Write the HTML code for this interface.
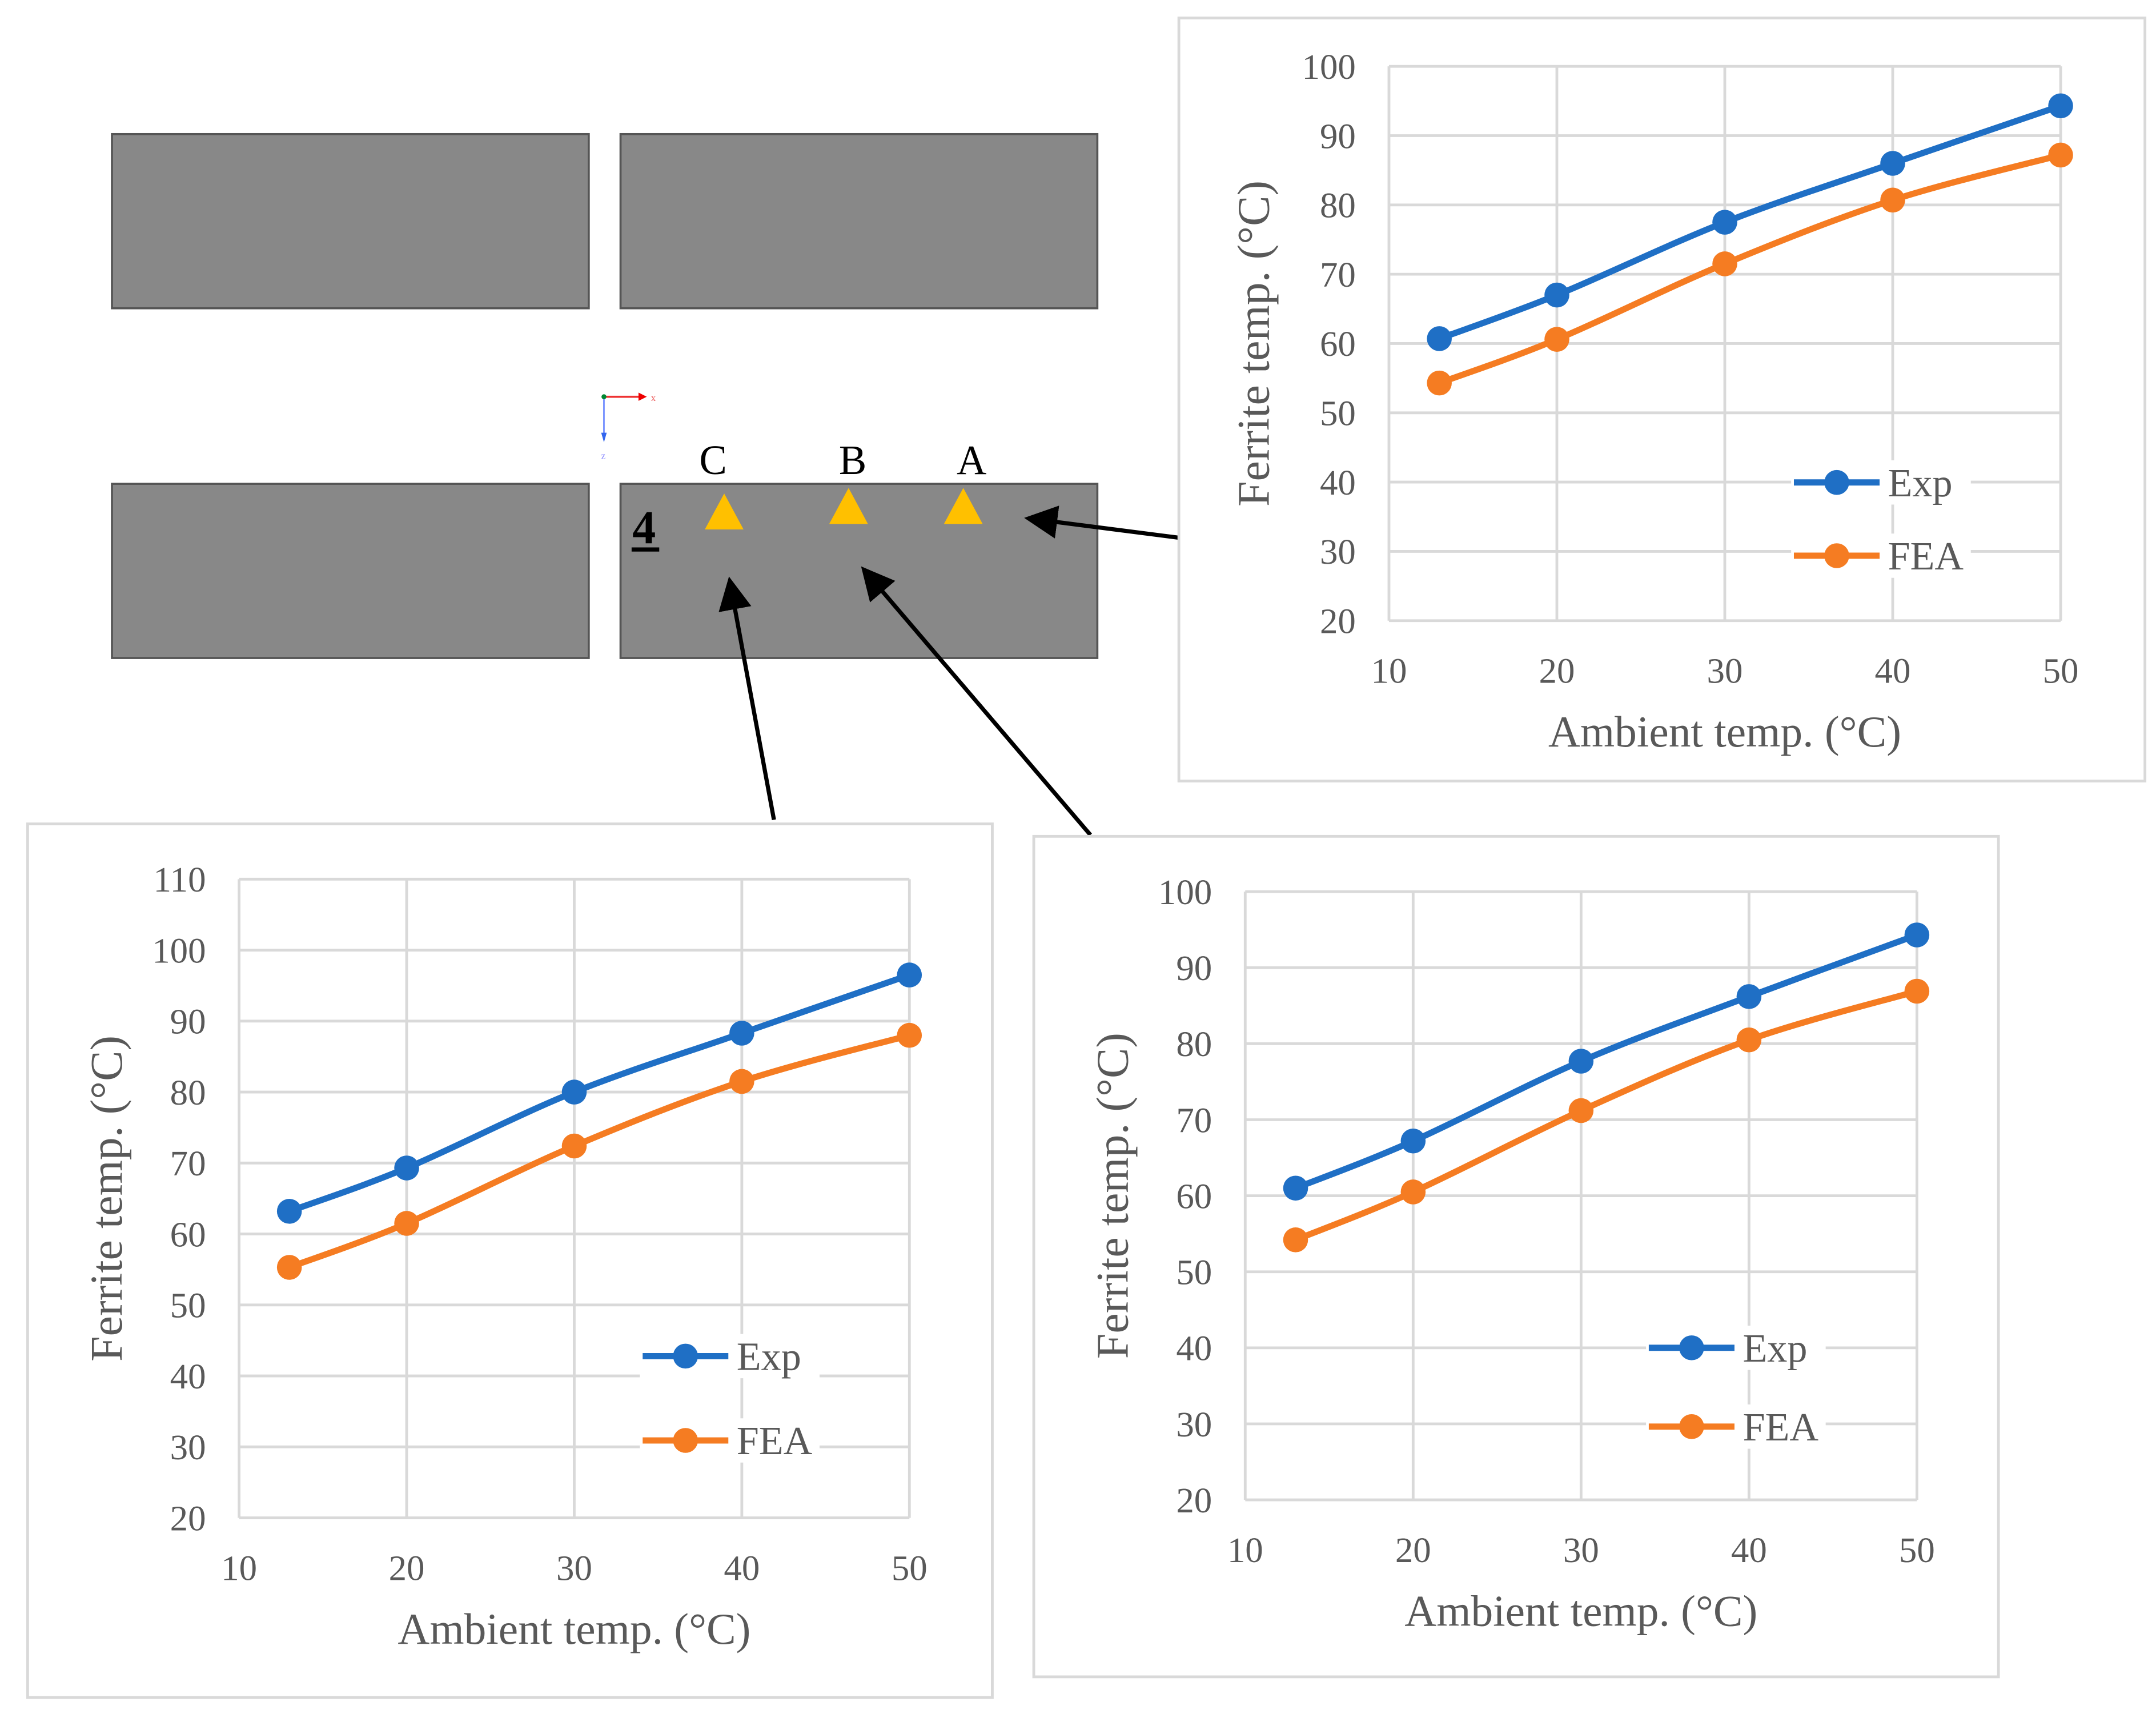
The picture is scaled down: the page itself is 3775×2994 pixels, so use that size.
<!DOCTYPE html>
<html><head><meta charset="utf-8">
<style>
html,body{margin:0;padding:0;background:#fff;}
svg{display:block;}
text{font-family:"Liberation Serif",serif;}
</style></head>
<body>
<svg id="fig" width="3775" height="2994" viewBox="0 0 1560 1237" preserveAspectRatio="none" xmlns="http://www.w3.org/2000/svg">
  <defs>
    <marker id="ah" markerWidth="8" markerHeight="8" refX="7" refY="4" orient="auto" markerUnits="strokeWidth">
      <path d="M0,0 L8,4 L0,8 Z" fill="#000"/>
    </marker>
  </defs>
  <g>
    <rect x="81" y="97" width="345" height="126" fill="#888" stroke="#555" stroke-width="1.5"/>
    <rect x="449" y="97" width="345" height="126" fill="#888" stroke="#555" stroke-width="1.5"/>
    <rect x="81" y="350" width="345" height="126" fill="#888" stroke="#555" stroke-width="1.5"/>
    <rect x="449" y="350" width="345" height="126" fill="#888" stroke="#555" stroke-width="1.5"/>
    <g>
      <line x1="437" y1="287" x2="462" y2="287" stroke="#e33" stroke-width="1.5"/>
      <polygon points="462,284 468,287 462,290" fill="#e00"/>
      <text x="471" y="290" font-size="7" fill="#e66">x</text>
      <line x1="437" y1="287" x2="437" y2="318" stroke="#57f" stroke-width="1"/>
      <polygon points="435,313 437,320 439,313" fill="#36e"/>
      <text x="435" y="332" font-size="7" fill="#88f">z</text>
      <circle cx="437" cy="287" r="1.8" fill="#083"/>
    </g>
    <text x="516" y="343" font-size="30" text-anchor="middle">C</text>
    <text x="617" y="343" font-size="30" text-anchor="middle">B</text>
    <text x="703" y="343" font-size="30" text-anchor="middle">A</text>
    <polygon points="510,383 538,383 524,357" fill="#FFC000"/>
    <polygon points="600,379 628,379 614,353" fill="#FFC000"/>
    <polygon points="683,379 711,379 697,353" fill="#FFC000"/>
    <text x="466" y="393" font-size="34" font-weight="bold" text-anchor="middle">4</text>
    <rect x="457" y="396" width="20" height="3" fill="#000"/>
    <line x1="853" y1="389" x2="744" y2="375" stroke="#000" stroke-width="3" marker-end="url(#ah)"/>
    <line x1="560" y1="593" x2="528" y2="420" stroke="#000" stroke-width="3" marker-end="url(#ah)"/>
    <line x1="789" y1="604" x2="625" y2="412" stroke="#000" stroke-width="3" marker-end="url(#ah)"/>
  </g>
  <g id="charts"></g>
</svg>
<script>
const xCats = [13, 20, 30, 40, 50];
const xTicks = [10, 20, 30, 40, 50];
const seriesNames = ["Exp", "FEA"];
const expA = [60.7, 67.0, 77.5, 86.0, 94.3];
const feaA = [54.3, 60.6, 71.5, 80.7, 87.2];
const expC = [63.2, 69.3, 80.0, 88.3, 96.5];
const feaC = [55.3, 61.5, 72.4, 81.5, 88.0];
const expB = [61.0, 67.2, 77.7, 86.2, 94.3];
const feaB = [54.2, 60.5, 71.2, 80.5, 86.9];
const yTicksA = [20, 30, 40, 50, 60, 70, 80, 90, 100];
const yTicksC = [20, 30, 40, 50, 60, 70, 80, 90, 100, 110];
const yTicksB = [20, 30, 40, 50, 60, 70, 80, 90, 100];

const NS = "http://www.w3.org/2000/svg";
const root = document.getElementById("charts");
function mk(tag, attrs, parent, text) {
  const e = document.createElementNS(NS, tag);
  for (const k in attrs) e.setAttribute(k, attrs[k]);
  if (text !== undefined) e.textContent = text;
  parent.appendChild(e);
  return e;
}
const colors = ["#1f6fc5", "#f57c22"];

function smoothPath(p) {
  let d = "M" + p[0][0] + "," + p[0][1];
  for (let i = 0; i < p.length - 1; i++) {
    const p0 = p[i - 1] || p[i], p1 = p[i], p2 = p[i + 1], p3 = p[i + 2] || p2;
    const t = 1 / 6;
    const c1 = [p1[0] + (p2[0] - p0[0]) * t, p1[1] + (p2[1] - p0[1]) * t];
    const c2 = [p2[0] - (p3[0] - p1[0]) * t, p2[1] - (p3[1] - p1[1]) * t];
    d += " C" + c1.join(",") + " " + c2.join(",") + " " + p2.join(",");
  }
  return d;
}

function drawChart(cfg, name, exp, fea, yTicks) {
  const g = mk("g", {}, root);
  
  
  const frame = mk("rect", {x: cfg.bx, y: cfg.by, width: cfg.bw, height: cfg.bh, fill: "#fff", stroke: "#d9d9d9", "stroke-width": 2}, g);
  
  
  const yMin = yTicks[0], yMax = yTicks[yTicks.length - 1];
  const xMin = xTicks[0], xMax = xTicks[xTicks.length - 1];
  const sx = v => cfg.px0 + (v - xMin) / (xMax - xMin) * (cfg.px1 - cfg.px0);
  const sy = v => cfg.py1 - (v - yMin) / (yMax - yMin) * (cfg.py1 - cfg.py0);
  yTicks.forEach(t => {
    const l = mk("line", {x1: cfg.px0, x2: cfg.px1, y1: sy(t), y2: sy(t), stroke: "#d9d9d9", "stroke-width": 2}, g);
    
    
    const tl = mk("text", {x: cfg.px0 - 24, y: sy(t) + 9, "font-size": 26, fill: "#595959", "text-anchor": "end"}, g, String(t));
    
    
  });
  xTicks.forEach(t => {
    const l = mk("line", {x1: sx(t), x2: sx(t), y1: cfg.py0, y2: cfg.py1, stroke: "#d9d9d9", "stroke-width": 2}, g);
    
    
    const tl = mk("text", {x: sx(t), y: cfg.py1 + 45, "font-size": 26, fill: "#595959", "text-anchor": "middle"}, g, String(t));
    
    
  });
  const xt = mk("text", {x: (cfg.px0 + cfg.px1) / 2, y: cfg.py1 + 91, "font-size": 32, fill: "#595959", "text-anchor": "middle"}, g, "Ambient temp. (°C)");
  
  
  const ycx = cfg.ytx, ycy = (cfg.py0 + cfg.py1) / 2;
  const yt = mk("text", {x: ycx, y: ycy, "font-size": 33, fill: "#595959", "text-anchor": "middle", transform: `rotate(-90 ${ycx} ${ycy})`}, g, "Ferrite temp. (°C)");
  
  
  [exp, fea].forEach((vals, si) => {
    const pts = vals.map((v, i) => [sx(xCats[i]), sy(v)]);
    const pl = mk("path", {d: smoothPath(pts), fill: "none", stroke: colors[si], "stroke-width": 4.5, "stroke-linejoin": "round"}, g);
    
    
    vals.forEach((v, i) => {
      const c = mk("circle", {cx: sx(xCats[i]), cy: sy(v), r: 9, fill: colors[si]}, g);
      
      
    });
    const ly = cfg.ly[si];
    const lg = mk("g", {}, g);
    
    
    mk("rect", {x: cfg.lx - 2, y: ly - 16, width: 130, height: 32, fill: "#fff"}, lg);
    mk("line", {x1: cfg.lx, x2: cfg.lx + 62, y1: ly, y2: ly, stroke: colors[si], "stroke-width": 4.5}, lg);
    mk("circle", {cx: cfg.lx + 31, cy: ly, r: 9, fill: colors[si]}, lg);
    mk("text", {x: cfg.lx + 68, y: ly + 10, "font-size": 29, fill: "#595959"}, lg, seriesNames[si]);
  });
}

drawChart({bx: 853, by: 13, bw: 699, bh: 552, px0: 1005, px1: 1491, py0: 48, py1: 449, ytx: 918, lx: 1298, ly: [349, 402]}, "chart-point-a", expA, feaA, yTicksA);
drawChart({bx: 20, by: 596, bw: 698, bh: 632, px0: 173, px1: 658, py0: 636, py1: 1098, ytx: 88, lx: 465, ly: [981, 1042]}, "chart-point-c", expC, feaC, yTicksC);
drawChart({bx: 748, by: 605, bw: 698, bh: 608, px0: 901, px1: 1387, py0: 645, py1: 1085, ytx: 816, lx: 1193, ly: [975, 1032]}, "chart-point-b", expB, feaB, yTicksB);
</script>
</body></html>
